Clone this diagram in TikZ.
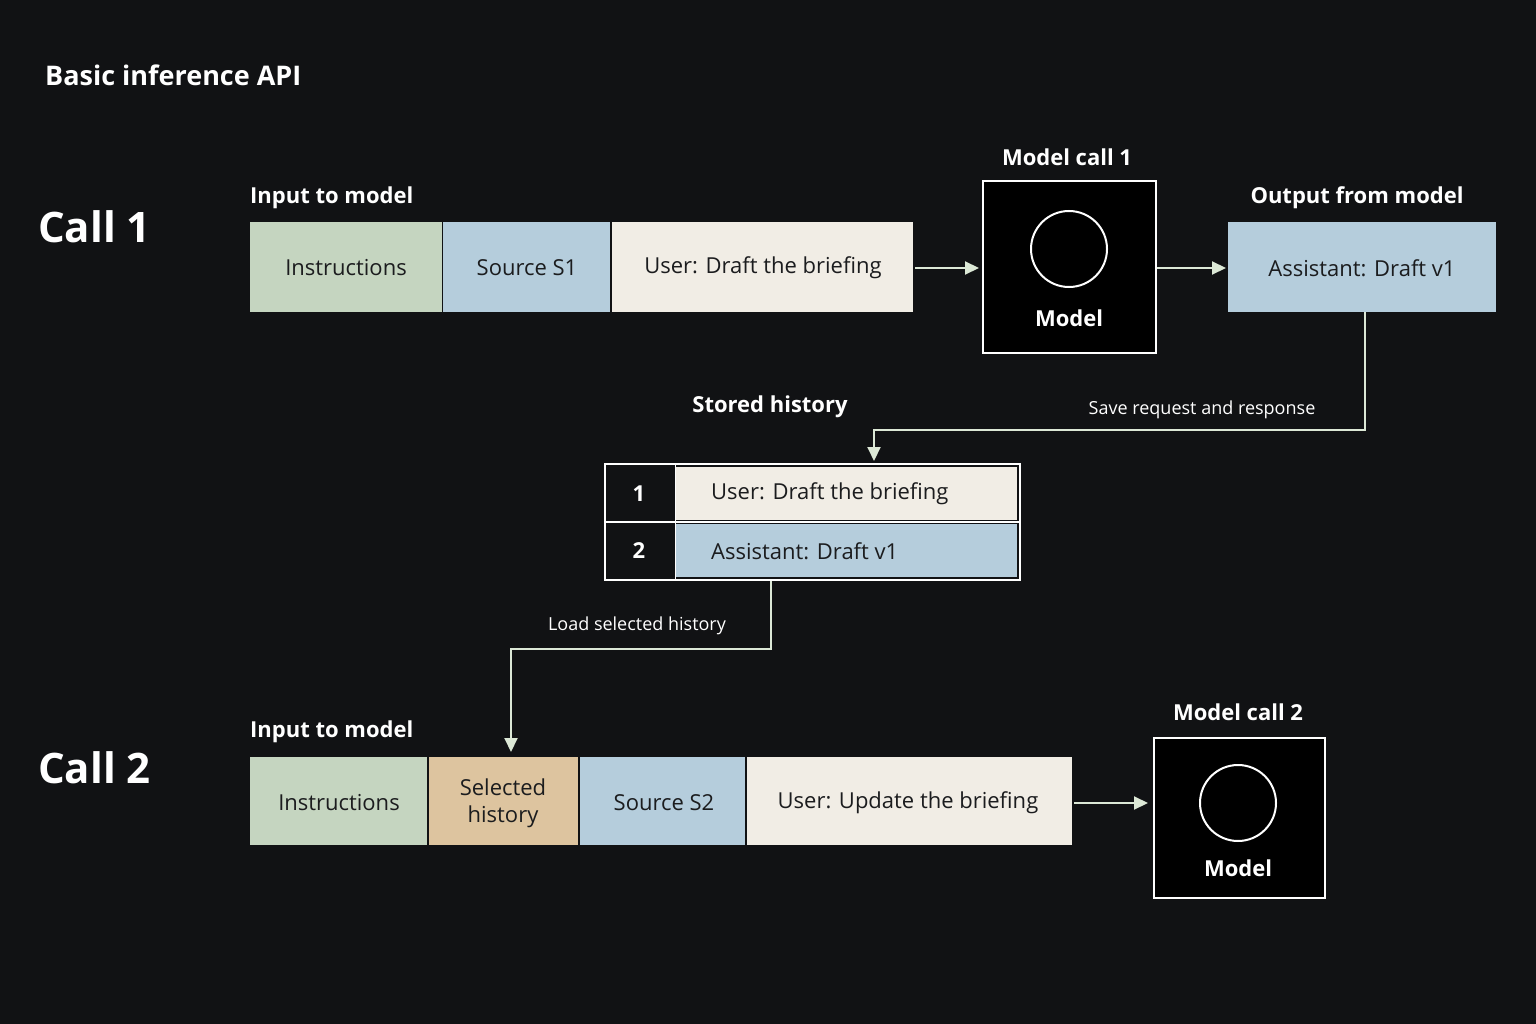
\documentclass[tikz,border=0pt]{standalone}
\usepackage{fontspec}
\setmainfont{Open Sans}
\usetikzlibrary{arrows.meta}
\definecolor{bg}{HTML}{111214}
\definecolor{cgreen}{HTML}{C5D5C0}
\definecolor{cblue}{HTML}{B5CDDC}
\definecolor{ccream}{HTML}{F1EDE5}
\definecolor{ctan}{HTML}{DDC49F}
\definecolor{ctext}{HTML}{1B1C1E}
\definecolor{cline}{HTML}{DCE8D6}
\begin{document}
\begin{tikzpicture}[x=1pt,y=-1pt,
  cell/.style={inner sep=0pt,text=ctext,font=\fontsize{22}{27}\selectfont,align=center},
  lbl/.style={text=white,font=\bfseries\fontsize{22}{26}\selectfont},
  small/.style={text=white,font=\fontsize{18}{22}\selectfont},
  big/.style={text=white,font=\bfseries\fontsize{42}{48}\selectfont,anchor=west},
  conn/.style={draw=cline,line width=2pt,-{Triangle[length=14pt,width=13pt]}},
  mbox/.style={draw=white,line width=2pt,fill=black}]
\fill[bg] (0,0) rectangle (1536,1024);
\useasboundingbox (0,0) rectangle (1536,1024);
\node[text=white,font=\bfseries\fontsize{27}{32}\selectfont,anchor=west,inner sep=0pt] (title) at (45,75) {Basic inference API};
\node[big,inner sep=0pt] (c1) at (38,227) {Call 1};
\node[big,inner sep=0pt] (c2) at (38,768) {Call 2};
% row 1
\node[lbl,anchor=west,inner sep=0pt] (in1) at (250,198) {Input to model};
\fill[cgreen] (250,222) rectangle (442,312); \node[cell] (i1) at (346,268) {Instructions};
\fill[cblue] (443,222) rectangle (610,312); \node[cell] (s1) at (527,268) {Source S1};
\fill[ccream] (612,222) rectangle (913,312); \node[cell] (u1) at (763,268) {User: Draft the briefing};
\coordinate (u1e) at (915,268);
\draw[mbox] (983,181) rectangle (1156,353);
\coordinate (m1w) at (979,268); \coordinate (m1e) at (1157,268);
\draw[white,line width=2pt] (1069,249) circle (38pt);
\node[lbl] (m1) at (1069,318) {Model};
\node[lbl] (mc1) at (1067,157) {Model call 1};
\draw[conn] (u1e) -- (m1w);
\fill[cblue] (1228,222) rectangle (1496,312); \node[cell] (o1) at (1362,268) {Assistant: Draft v1};
\node[lbl] (out) at (1357,198) {Output from model};
\draw[conn] (m1e) -- (1226,268);
\coordinate (o1s) at (1365,312);
\coordinate (hs) at (874,461);
\draw[conn] (o1s) -- (1365,430) -- (874,430) -- (hs);
\node[small] (save) at (1202,410) {Save request and response};
\node[lbl] (sh) at (770,407) {Stored history};
% table
\fill[ccream] (676,467) rectangle (1017,520);
\fill[cblue] (676,524) rectangle (1017,577);
\draw[white,line width=2pt] (605,464) rectangle (1020,580);
\draw[white,line width=2pt] (605,522) -- (1020,522);
\draw[white,line width=1pt] (675,464) -- (675,580);
\node[lbl] (n1) at (639,494) {1};
\node[lbl] (n2) at (639,551) {2};
\node[cell,anchor=west] (h1) at (711,494) {User: Draft the briefing};
\node[cell,anchor=west] (h2) at (711,551) {Assistant: Draft v1};
\coordinate (ts) at (771,581);
\coordinate (sel) at (511,752);
\draw[conn] (ts) -- (771,649) -- (511,649) -- (sel);
\node[small] (load) at (637,626) {Load selected history};
% row 2
\node[lbl,anchor=west,inner sep=0pt] (in2) at (250,732) {Input to model};
\fill[cgreen] (250,757) rectangle (427,845); \node[cell] (i2) at (339,803) {Instructions};
\fill[ctan] (429,757) rectangle (578,845); \node[cell] (sh2) at (503,803) {Selected\\history};
\fill[cblue] (580,757) rectangle (745,845); \node[cell] (s2) at (664,803) {Source S2};
\fill[ccream] (747,757) rectangle (1072,845); \node[cell] (u2) at (908,803) {User: Update the briefing};
\draw[mbox] (1154,738) rectangle (1325,898);
\draw[white,line width=2pt] (1238,803) circle (38pt);
\node[lbl] (m2) at (1238,868) {Model};
\node[lbl] (mc2) at (1238,712) {Model call 2};
\coordinate (u2e) at (1074,803);
\coordinate (m2w) at (1148,803);
\draw[conn] (u2e) -- (m2w);
\end{tikzpicture}
\end{document}
